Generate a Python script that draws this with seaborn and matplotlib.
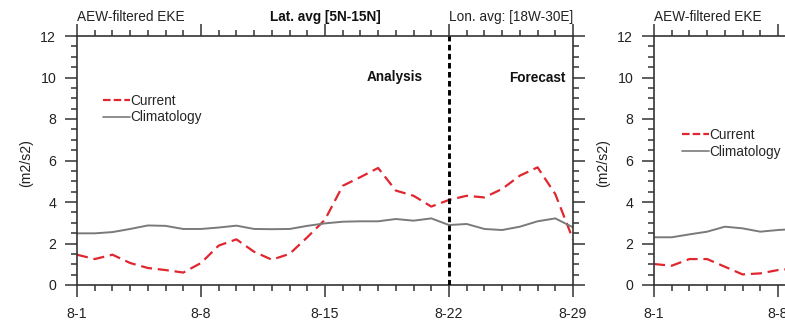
import numpy as np
import pandas as pd
import matplotlib
matplotlib.use("Agg")
import matplotlib.pyplot as plt
from matplotlib.lines import Line2D
from matplotlib.ticker import MultipleLocator, FixedLocator
import seaborn as sns

# ---- data: AEW-filtered eddy kinetic energy, August (day of month) ----
days_a = list(range(1, 30))
current_a = [1.46, 1.25, 1.46, 1.06, 0.82, 0.72, 0.60, 1.06, 1.90, 2.20,
             1.60, 1.22, 1.50, 2.30, 3.15, 4.78, 5.20, 5.64, 4.55, 4.30,
             3.78, 4.10, 4.30, 4.22, 4.63, 5.27, 5.67, 4.38, 2.20]
clim_a = [2.49, 2.49, 2.55, 2.70, 2.87, 2.85, 2.70, 2.70, 2.77, 2.86,
          2.70, 2.69, 2.70, 2.85, 2.97, 3.05, 3.07, 3.07, 3.18, 3.10,
          3.21, 2.89, 2.94, 2.70, 2.65, 2.81, 3.07, 3.21, 2.78]

days_b = list(range(1, 10))
current_b = [1.01, 0.93, 1.25, 1.25, 0.88, 0.51, 0.56, 0.72, 0.80]
clim_b = [2.30, 2.30, 2.44, 2.57, 2.81, 2.73, 2.57, 2.65, 2.70]

x_major = [1, 8, 15, 22, 29]
x_labels = ["8-1", "8-8", "8-15", "8-22", "8-29"]
split_day = 22

sns.set_theme(style="white")
plt.rcParams["font.family"] = ["Liberation Sans", "DejaVu Sans"]

RED = "#e0262f"
GREY = "#7a7a7a"
FS = 9.8
TFS = 10.2

fig = plt.figure(figsize=(7.85, 3.28), dpi=100)
W = 496 / 785
H = 249 / 328
B = 43 / 328
ax1 = fig.add_axes([77 / 785, B, W, H])
ax2 = fig.add_axes([654 / 785, B, W, H])


def style_axes(ax):
    ax.set_xlim(1, 29)
    ax.set_ylim(0, 12)
    ax.xaxis.set_major_locator(FixedLocator(x_major))
    ax.set_xticklabels(x_labels)
    ax.xaxis.set_minor_locator(MultipleLocator(1))
    ax.yaxis.set_major_locator(MultipleLocator(2))
    ax.yaxis.set_minor_locator(MultipleLocator(0.5))
    ax.tick_params(which="both", direction="out", top=True, right=True,
                   bottom=True, left=True, color="#333333", width=1.1)
    ax.tick_params(which="major", length=8.5, labelsize=TFS,
                   labelcolor="#222222")
    ax.tick_params(axis="x", which="major", pad=7.5)
    ax.tick_params(axis="y", which="major", pad=6.5)
    ax.tick_params(which="minor", length=4.3)
    for s in ax.spines.values():
        s.set_color("#333333")
        s.set_linewidth(1.2)
    ax.set_xlabel("")
    ax.set_ylabel("(m2/s2)", fontsize=TFS, color="#222222")
    ax.yaxis.set_label_coords(-0.089, 0.49)
    ax.text(0.0, 1.05, "AEW-filtered EKE", transform=ax.transAxes,
            ha="left", va="bottom", fontsize=FS, color="#222222")


def draw_series(ax, days, cur, clim, leg_xy):
    df = pd.DataFrame({"day": days, "Current": cur, "Climatology": clim})
    sns.lineplot(data=df, x="day", y="Current", ax=ax, color=RED,
                 linewidth=1.6)
    ax.lines[-1].set_dashes((5, 2.6))
    sns.lineplot(data=df, x="day", y="Climatology", ax=ax, color=GREY,
                 linewidth=1.4)
    handles = [Line2D([], [], color=RED, lw=1.6, dashes=(3.4, 1.4)),
               Line2D([], [], color=GREY, lw=1.2)]
    ax.legend(handles, ["Current", "Climatology"], loc="upper left",
              bbox_to_anchor=leg_xy, frameon=False, fontsize=FS,
              handlelength=2.0, handletextpad=0.05, labelspacing=0.2,
              borderpad=0, borderaxespad=0)


draw_series(ax1, days_a, current_a, clim_a, (0.052, 0.768))
draw_series(ax2, days_b, current_b, clim_b, (0.056, 0.63))

for ax in (ax1, ax2):
    style_axes(ax)

# analysis / forecast split
ax1.axvline(split_day, color="black", lw=2.1, dashes=(1.9, 1.2), zorder=3)
ax1.text(20.5, 10.0, "Analysis", ha="right", va="center", fontsize=FS,
         fontweight="bold", color="#111111")
ax1.text(28.55, 10.0, "Forecast", ha="right", va="center", fontsize=FS,
         fontweight="bold", color="#111111")
ax1.text(0.5, 1.05, "Lat. avg [5N-15N]", transform=ax1.transAxes,
         ha="center", va="bottom", fontsize=FS, fontweight="bold",
         color="#111111")
ax1.text(1.0, 1.05, "Lon. avg: [18W-30E]", transform=ax1.transAxes,
         ha="right", va="bottom", fontsize=FS, color="#222222")

fig.savefig("out.png", dpi=100)
